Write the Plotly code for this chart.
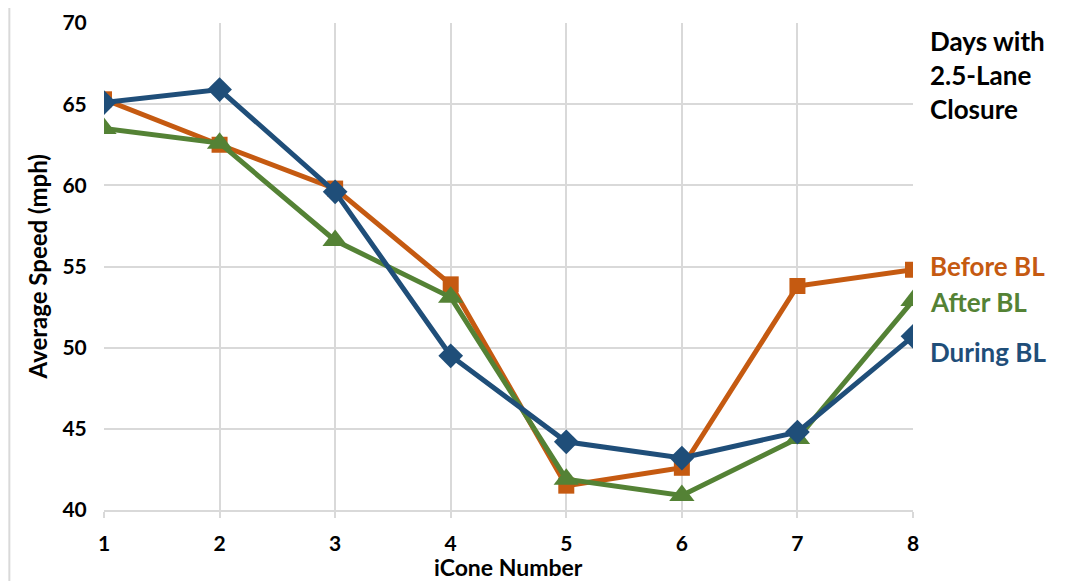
import plotly.graph_objects as go

icone = [1, 2, 3, 4, 5, 6, 7, 8]
before_bl = [65.3, 62.5, 59.8, 53.9, 41.5, 42.6, 53.8, 54.8]
after_bl = [63.5, 62.6, 56.6, 53.1, 41.9, 40.9, 44.4, 52.9]
during_bl = [65.1, 65.9, 59.6, 49.5, 44.2, 43.2, 44.8, 50.7]
y_ticks = [40, 45, 50, 55, 60, 65, 70]

ORANGE = "#C55A11"
GREEN = "#548235"
BLUE = "#1F4E79"
FONT = "Lato"

fig = go.Figure()
fig.add_trace(go.Scatter(x=icone, y=before_bl, mode="lines+markers", name="Before BL",
                         line=dict(color=ORANGE, width=5),
                         marker=dict(symbol="square", size=16, color=ORANGE)))
fig.add_trace(go.Scatter(x=icone, y=after_bl, mode="lines+markers", name="After BL",
                         line=dict(color=GREEN, width=5),
                         marker=dict(symbol="triangle-up", size=22, color=GREEN)))
fig.add_trace(go.Scatter(x=icone, y=during_bl, mode="lines+markers", name="During BL",
                         line=dict(color=BLUE, width=5),
                         marker=dict(symbol="diamond", size=19, color=BLUE)))

fig.update_layout(
    width=1066, height=581,
    margin=dict(l=96, r=161, t=15, b=79, autoexpand=False),
    paper_bgcolor="white", plot_bgcolor="white",
    showlegend=False,
    font=dict(family=FONT, color="black"),
    xaxis=dict(range=[1, 8], tickvals=icone, showgrid=True, gridcolor="#D9D9D9", gridwidth=2,
               zeroline=False, showline=True, linecolor="#D9D9D9", linewidth=2,
               ticks="outside", ticklen=6, tickcolor="#D9D9D9", tickwidth=2,
               ticklabelstandoff=8, automargin=False,
               tickfont=dict(size=21, family=FONT, weight="bold")),
    yaxis=dict(range=[40, 70], tickvals=y_ticks, showgrid=True, gridcolor="#D9D9D9", gridwidth=2,
               zeroline=False, showline=False, automargin=False,
               ticks="outside", ticklen=12, tickcolor="rgba(0,0,0,0)",
               tickfont=dict(size=21, family=FONT, weight="bold")),
)

# axis titles
fig.add_annotation(x=0.5, y=-0.117, xref="paper", yref="paper", xanchor="center", yanchor="middle",
                   text="iCone Number", showarrow=False,
                   font=dict(size=23, family=FONT, color="black", weight="bold"))
fig.add_annotation(x=-0.0816, y=0.5, xref="paper", yref="paper", xanchor="center", yanchor="middle",
                   text="Average Speed (mph)", showarrow=False, textangle=-90,
                   font=dict(size=24, family=FONT, color="black", weight="bold"))

fig.add_annotation(x=1.018, y=1.0, xref="paper", yref="paper", xanchor="left", yanchor="top",
                   text="Days with<br>2.5-Lane<br>Closure", showarrow=False, align="left",
                   font=dict(size=26, family=FONT, color="black", weight="bold"))
fig.add_annotation(x=1.018, y=0.502, xref="paper", yref="paper", xanchor="left", yanchor="middle",
                   text="Before BL", showarrow=False,
                   font=dict(size=26, family=FONT, color=ORANGE, weight="bold"))
fig.add_annotation(x=1.018, y=0.428, xref="paper", yref="paper", xanchor="left", yanchor="middle",
                   text="After BL", showarrow=False,
                   font=dict(size=26, family=FONT, color=GREEN, weight="bold"))
fig.add_annotation(x=1.018, y=0.325, xref="paper", yref="paper", xanchor="left", yanchor="middle",
                   text="During BL", showarrow=False,
                   font=dict(size=26, family=FONT, color=BLUE, weight="bold"))

# outer chart frame
fig.add_shape(type="line", xref="paper", yref="paper", x0=-0.117, x1=-0.117, y0=-0.3, y1=1.035,
              line=dict(color="#D9D9D9", width=2))
fig.add_shape(type="line", xref="paper", yref="paper", x0=-0.117, x1=1.3, y0=1.035, y1=1.035,
              line=dict(color="#D9D9D9", width=2))

fig.write_html("out.html")
